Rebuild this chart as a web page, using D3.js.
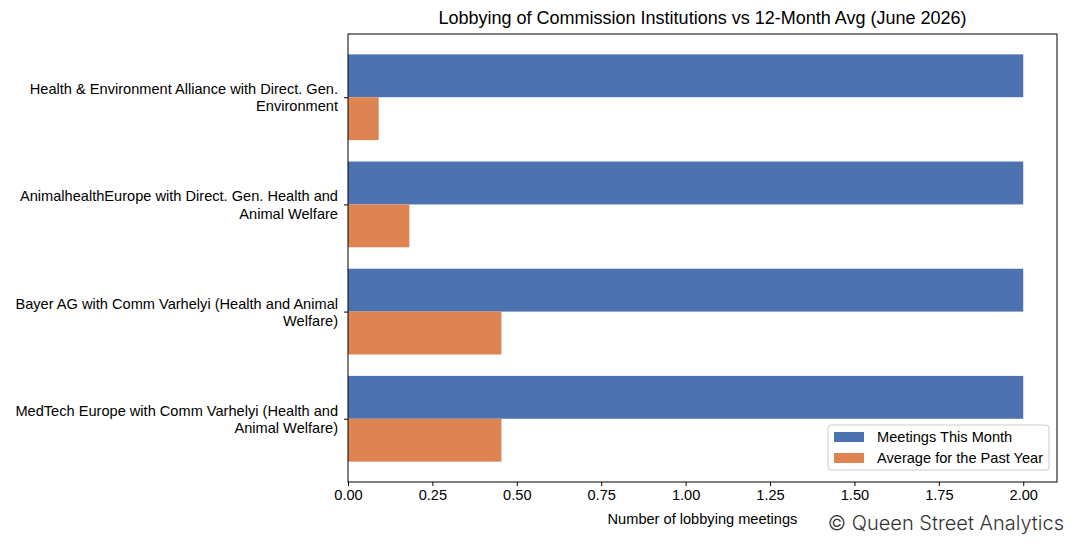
<!DOCTYPE html>
<html>
<head>
<meta charset="utf-8">
<script src="https://cdn.jsdelivr.net/npm/d3@7"></script>
<style>
  body { margin: 0; background: #fff; }
  svg text { font-family: "Liberation Sans", Arial, sans-serif; fill: #000; }
</style>
</head>
<body>
<div id="chart"></div>
<script>
// chart data
const categories = [
  ["Health & Environment Alliance with Direct. Gen.", "Environment"],
  ["AnimalhealthEurope with Direct. Gen. Health and", "Animal Welfare"],
  ["Bayer AG with Comm Varhelyi (Health and Animal", "Welfare)"],
  ["MedTech Europe with Comm Varhelyi (Health and", "Animal Welfare)"]
]
const meetingsThisMonth = [2, 2, 2, 2]
const averagePastYear = [0.0909, 0.1818, 0.4545, 0.4545]
const seriesNames = ["Meetings This Month", "Average for the Past Year"]
const xTicks = [0, 0.25, 0.5, 0.75, 1, 1.25, 1.5, 1.75, 2]

const width = 1075
const height = 546
const margin = { top: 34, right: 18, bottom: 64, left: 348 }
const barH = 0.4
const fs = 14.6

const svg = d3.select("#chart").append("svg")
  .attr("width", width)
  .attr("height", height)

const x = d3.scaleLinear()
  .domain([0, 2.1])
  .range([margin.left, width - margin.right])

const y = d3.scaleLinear()
  .domain([-0.59, categories.length - 1 + 0.59])
  .range([margin.top, height - margin.bottom])

const colors = ["#4c72b0", "#dd8452"]

// bars: blue above the tick, orange below
svg.append("g").selectAll("rect")
  .data(meetingsThisMonth)
  .enter().append("rect")
  .attr("x", x(0))
  .attr("y", (d, i) => y(i - barH))
  .attr("width", d => x(d) - x(0))
  .attr("height", y(barH) - y(0))
  .attr("fill", colors[0])

svg.append("g").selectAll("rect")
  .data(averagePastYear)
  .enter().append("rect")
  .attr("x", x(0))
  .attr("y", (d, i) => y(i))
  .attr("width", d => x(d) - x(0))
  .attr("height", y(barH) - y(0))
  .attr("fill", colors[1])

// frame
svg.append("rect")
  .attr("x", margin.left)
  .attr("y", margin.top)
  .attr("width", width - margin.right - margin.left)
  .attr("height", height - margin.bottom - margin.top)
  .attr("fill", "none")
  .attr("stroke", "#000")
  .attr("stroke-width", 1)

// x axis
const xAxis = svg.append("g")
  .attr("transform", `translate(0,${height - margin.bottom})`)
  .call(d3.axisBottom(x).tickValues(xTicks).tickFormat(d3.format(".2f")).tickSize(4).tickPadding(4))
xAxis.select(".domain").remove()
xAxis.selectAll("text").attr("font-size", fs).attr("font-family", "Liberation Sans, Arial, sans-serif")

// y axis ticks + wrapped labels
const yAxis = svg.append("g")
  .attr("transform", `translate(${margin.left},0)`)
  .call(d3.axisLeft(y).tickValues(d3.range(categories.length)).tickFormat("").tickSize(4))
yAxis.select(".domain").remove()

const labels = svg.append("g").selectAll("text")
  .data(categories)
  .enter().append("text")
  .attr("x", margin.left - 10)
  .attr("y", (d, i) => y(i))
  .attr("text-anchor", "end")
  .attr("font-size", fs)

labels.selectAll("tspan")
  .data(d => d)
  .enter().append("tspan")
  .attr("x", margin.left - 10)
  .attr("dy", (d, j) => j === 0 ? "-0.2em" : "1.17em")
  .text(d => d)

// title
svg.append("text")
  .attr("x", (margin.left + width - margin.right) / 2)
  .attr("y", 24)
  .attr("text-anchor", "middle")
  .attr("font-size", 18)
  .text("Lobbying of Commission Institutions vs 12-Month Avg (June 2026)")

// x label
svg.append("text")
  .attr("x", (margin.left + width - margin.right) / 2)
  .attr("y", 524)
  .attr("text-anchor", "middle")
  .attr("font-size", fs)
  .text("Number of lobbying meetings")

// watermark
svg.append("text")
  .attr("x", 1064)
  .attr("y", 530)
  .attr("text-anchor", "end")
  .attr("font-size", 20)
  .style("font-family", "Inter, 'Noto Sans', sans-serif")
  .style("font-weight", 300)
  .style("fill", "#333")
  .text("© Queen Street Analytics")

// legend
const legend = svg.append("g").attr("transform", "translate(828,425)")
legend.append("rect")
  .attr("width", 221)
  .attr("height", 45)
  .attr("rx", 3)
  .attr("fill", "#fff")
  .attr("fill-opacity", 0.8)
  .attr("stroke", "#ccc")

seriesNames.forEach((name, i) => {
  legend.append("rect")
    .attr("x", 6)
    .attr("y", 7 + i * 21)
    .attr("width", 30)
    .attr("height", 10)
    .attr("fill", colors[i])
  legend.append("text")
    .attr("x", 49)
    .attr("y", 17 + i * 21)
    .attr("font-size", fs)
    .text(name)
})
</script>
</body>
</html>
